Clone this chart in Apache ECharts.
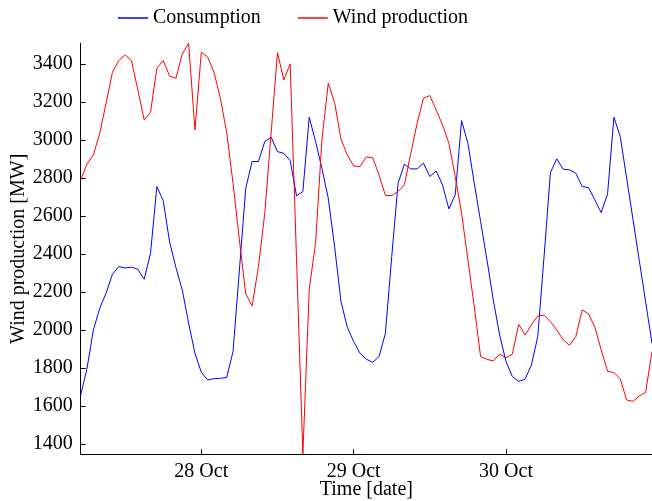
<!DOCTYPE html>
<html>
<head>
<meta charset="utf-8">
<script src="https://cdn.jsdelivr.net/npm/echarts@6/dist/echarts.min.js"></script>
<style>
  html, body { margin: 0; padding: 0; background: #fff; }
  #chart { width: 652px; height: 501px; }
</style>
</head>
<body>
<div id="chart"></div>
<script>
// hourly values, 27 Oct 05:00 .. 30 Oct 23:00
const startDay = 27
const startHour = 5
const consumption = [
  1659, 1800, 2002, 2116, 2195, 2295, 2335, 2328, 2332, 2321,
  2268, 2405, 2756, 2682, 2466, 2330, 2212, 2037, 1879, 1779,
  1738, 1745, 1747, 1751, 1888, 2317, 2747, 2888, 2888, 2993,
  3016, 2940, 2931, 2893, 2707, 2730, 3121, 2993, 2852, 2695,
  2440, 2151, 2016, 1940, 1879, 1847, 1831, 1861, 1984, 2388,
  2774, 2874, 2849, 2849, 2879, 2809, 2838, 2765, 2638, 2712,
  3103, 2984, 2774, 2572, 2370, 2159, 1975, 1835, 1756, 1731,
  1742, 1817, 1966, 2390, 2830, 2902, 2847, 2844, 2826, 2756,
  2751, 2686, 2619, 2717, 3121, 3019, 2802, 2584, 2366, 2149,
  1931
]
const windProduction = [
  2791, 2875, 2923, 3037, 3195, 3358, 3419, 3449, 3419, 3265,
  3107, 3147, 3379, 3419, 3338, 3326, 3454, 3510, 3054, 3463,
  3437, 3358, 3221, 3040, 2774, 2475, 2191, 2128, 2335, 2616,
  3038, 3461, 3317, 3402, 2377, 1347, 2216, 2458, 3002, 3300,
  3198, 3005, 2923, 2865, 2861, 2912, 2908, 2817, 2709, 2709,
  2730, 2765, 2931, 3089, 3221, 3235, 3159, 3081, 2984, 2809,
  2616, 2370, 2124, 1861, 1847, 1838, 1874, 1855, 1874, 2031,
  1975, 2028, 2075, 2079, 2045, 2002, 1949, 1921, 1966, 2107,
  2086, 2016, 1896, 1784, 1777, 1744, 1633, 1626, 1654, 1673,
  1888
]
const yTicks = [1400, 1600, 1800, 2000, 2200, 2400, 2600, 2800, 3000, 3200, 3400]

const pad = n => (n < 10 ? '0' : '') + n
const categories = consumption.map((_, i) => {
  const h = startHour + i
  return (startDay + Math.floor(h / 24)) + ' Oct ' + pad(h % 24) + ':00'
})
const isMidnight = (idx, value) => value.endsWith(' 00:00')

const font = 'Liberation Serif'
const chart = echarts.init(document.getElementById('chart'))
chart.setOption({
  animation: false,
  textStyle: { fontFamily: font, color: '#000' },
  legend: {
    left: 118,
    top: 8,
    padding: 0,
    icon: 'rect',
    itemWidth: 30,
    itemHeight: 1.5,
    itemGap: 37,
    textStyle: { fontFamily: font, fontSize: 20, color: '#000' },
    data: ['Consumption', 'Wind production']
  },
  grid: {
    left: 80.7,
    right: 0,
    top: 43.3,
    bottom: 46.7,
    containLabel: false,
    outerBoundsMode: 'none'
  },
  xAxis: {
    type: 'category',
    data: categories,
    boundaryGap: false,
    name: 'Time [date]',
    nameLocation: 'middle',
    nameGap: 25,
    nameMoveOverlap: false,
    nameTextStyle: { fontFamily: font, fontSize: 20, color: '#000' },
    axisLine: { lineStyle: { color: '#000', width: 1 } },
    axisTick: { inside: true, length: 5, interval: isMidnight, lineStyle: { color: '#000' } },
    axisLabel: {
      interval: isMidnight,
      formatter: v => v.slice(0, 6),
      fontFamily: font,
      fontSize: 20,
      color: '#000',
      margin: 7
    },
    splitLine: { show: false }
  },
  yAxis: {
    type: 'value',
    min: Math.min(...windProduction, ...consumption),
    max: Math.max(...windProduction, ...consumption),
    name: 'Wind production [MW]',
    nameLocation: 'middle',
    nameGap: 52,
    nameMoveOverlap: false,
    nameTextStyle: { fontFamily: font, fontSize: 20, color: '#000' },
    axisLine: { show: true, lineStyle: { color: '#000', width: 1 } },
    axisTick: { show: true, inside: true, length: 5, customValues: yTicks, lineStyle: { color: '#000' } },
    axisLabel: {
      customValues: yTicks,
      formatter: v => String(v),
      fontFamily: font,
      fontSize: 20,
      color: '#000',
      margin: 8
    },
    splitLine: { show: false }
  },
  series: [
    {
      name: 'Consumption',
      type: 'line',
      data: consumption,
      symbol: 'none',
      lineStyle: { color: '#0000ff', width: 1 },
      itemStyle: { color: '#0000ff' }
    },
    {
      name: 'Wind production',
      type: 'line',
      data: windProduction,
      symbol: 'none',
      lineStyle: { color: '#ff0000', width: 1 },
      itemStyle: { color: '#ff0000' }
    }
  ]
})
</script>
</body>
</html>
